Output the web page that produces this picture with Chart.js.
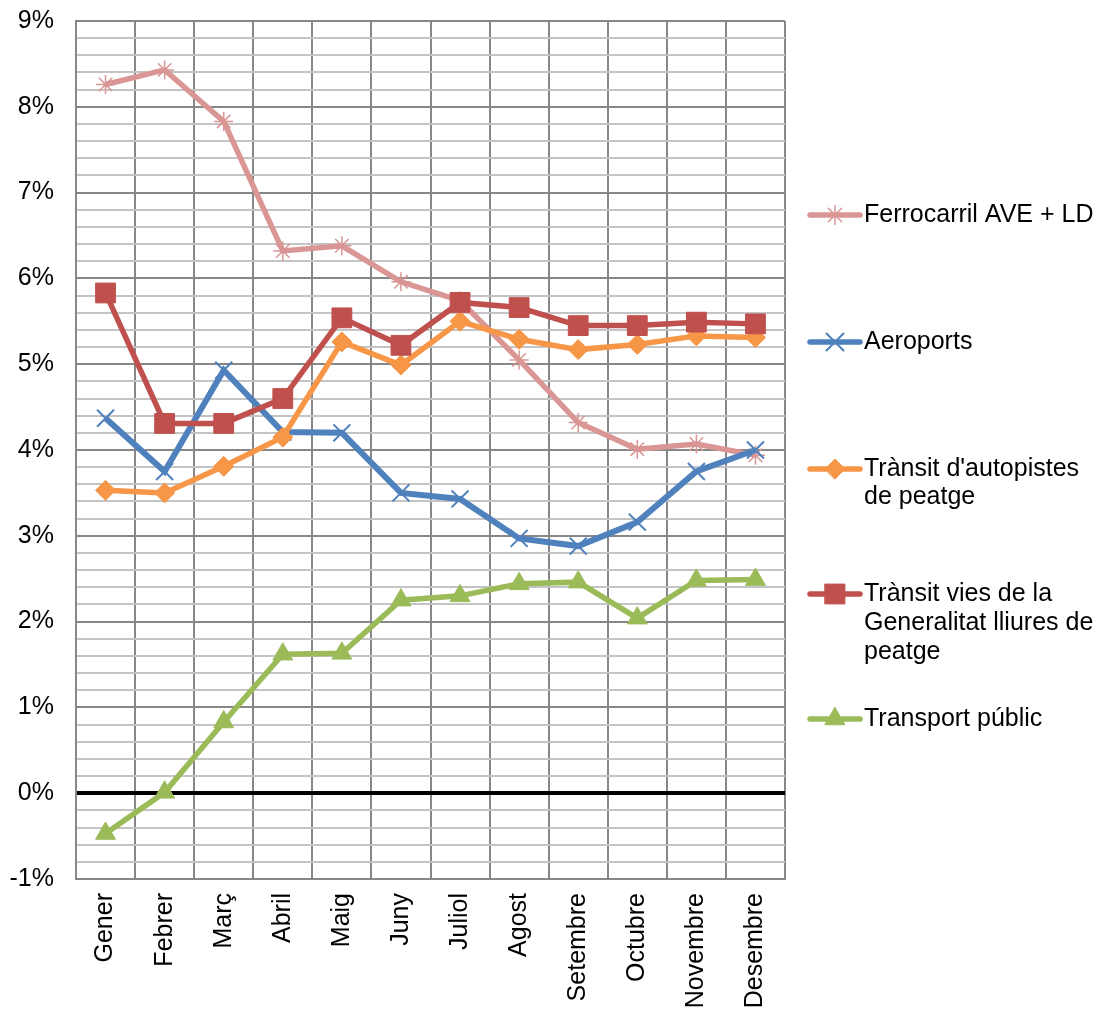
<!DOCTYPE html>
<html>
<head>
<meta charset="utf-8">
<script src="https://cdn.jsdelivr.net/npm/chart.js@4/dist/chart.umd.min.js"></script>
<style>
  html, body { margin: 0; padding: 0; background: #fff; }
  #wrap { width: 1101px; height: 1010px; position: relative; }
</style>
</head>
<body>
<div id="wrap"><canvas id="chart"></canvas></div>
<script>
const months = ['Gener', 'Febrer', 'Març', 'Abril', 'Maig', 'Juny', 'Juliol', 'Agost', 'Setembre', 'Octubre', 'Novembre', 'Desembre'];

const ferrocarril = [8.26, 8.43, 7.83, 6.32, 6.38, 5.96, 5.74, 5.05, 4.32, 4.01, 4.07, 3.94];
const aeroports = [4.37, 3.75, 4.93, 4.21, 4.20, 3.50, 3.43, 2.97, 2.88, 3.16, 3.75, 4.00];
const autopistes = [3.53, 3.50, 3.81, 4.15, 5.26, 4.99, 5.50, 5.29, 5.17, 5.23, 5.33, 5.31];
const viesGeneralitat = [5.83, 4.31, 4.31, 4.60, 5.54, 5.22, 5.72, 5.66, 5.45, 5.45, 5.49, 5.47];
const transportPublic = [-0.47, 0.01, 0.83, 1.62, 1.63, 2.25, 2.30, 2.44, 2.46, 2.04, 2.48, 2.49];

const seriesNames = [
    ['Ferrocarril AVE + LD'],
    ['Aeroports'],
    ["Trànsit d'autopistes", 'de peatge'],
    ['Trànsit vies de la', 'Generalitat lliures de', 'peatge'],
    ['Transport públic']
];

const FONT = "'Liberation Sans', Arial, sans-serif";
Chart.defaults.font.family = FONT;
Chart.defaults.font.size = 25;
Chart.defaults.color = '#000';

function series(i, data, color, style, radius, pointBorder, width) {
    return {
        label: seriesNames[i].join(' '),
        data: data,
        borderColor: color,
        backgroundColor: color,
        borderWidth: width,
        pointStyle: style,
        pointRadius: radius,
        pointHoverRadius: radius,
        pointBorderWidth: pointBorder,
        pointBackgroundColor: color,
        pointBorderColor: color,
        tension: 0,
        order: 4 - i
    };
}

const datasets = [
    series(0, ferrocarril, '#D99694', 'star', 9.5, 1.5, 5.5),
    series(1, aeroports, '#4F81BD', 'crossRot', 12, 2, 6),
    series(2, autopistes, '#F79646', 'rectRot', 10, 1, 5.5),
    series(3, viesGeneralitat, '#C0504D', 'rect', 14, 1, 5.5),
    series(4, transportPublic, '#9BBB59', 'triangle', 11.5, 1, 5.5)
];

// legend on the right, drawn by hand so the entries can wrap like the original
const sideLegend = {
    id: 'sideLegend',
    afterDraw(chart) {
        const ctx = chart.ctx;
        const rows = [[215], [342], [469, 497], [594, 623, 652], [719]];
        ctx.save();
        chart.data.datasets.forEach((ds, i) => {
            const y = rows[i][0];
            ctx.strokeStyle = ds.borderColor;
            ctx.fillStyle = ds.borderColor;
            ctx.lineWidth = 5.5;
            ctx.lineCap = 'round';
            ctx.beginPath();
            ctx.moveTo(810, y);
            ctx.lineTo(860, y);
            ctx.stroke();
            ctx.lineWidth = ds.pointBorderWidth;
            Chart.helpers.drawPoint(ctx, {
                pointStyle: ds.pointStyle,
                radius: ds.pointRadius,
                rotation: 0,
                borderWidth: ds.pointBorderWidth
            }, 835, y);
            ctx.fillStyle = '#000';
            ctx.font = '25px ' + FONT;
            ctx.textBaseline = 'middle';
            ctx.textAlign = 'left';
            seriesNames[i].forEach((line, j) => {
                ctx.fillText(line, 864, rows[i][j]);
            });
        });
        ctx.restore();
    }
};

function isWhole(v) {
    return Math.abs(v - Math.round(v)) < 1e-6;
}

new Chart(document.getElementById('chart'), {
    type: 'line',
    data: { labels: months, datasets: datasets },
    options: {
        responsive: true,
        maintainAspectRatio: false,
        animation: false,
        layout: { padding: { top: 21, right: 316, bottom: 0, left: 0 } },
        plugins: {
            legend: { display: false },
            tooltip: { enabled: false }
        },
        scales: {
            x: {
                offset: true,
                grid: { offset: true, color: '#878787', lineWidth: 2, drawTicks: false },
                border: { display: true, color: '#878787', width: 2 },
                ticks: { minRotation: 90, maxRotation: 90, padding: 14, autoSkip: false },
                afterFit(scale) {
                    scale.height = 131;
                    scale.paddingLeft = 0;
                    scale.paddingRight = 0;
                }
            },
            y: {
                min: -1,
                max: 9,
                grid: {
                    drawTicks: false,
                    color: (c) => {
                        const v = c.tick.value;
                        if (Math.abs(v) < 1e-6) return '#000';
                        return isWhole(v) ? '#878787' : '#C4C4C4';
                    },
                    lineWidth: (c) => Math.abs(c.tick.value) < 1e-6 ? 4 : 2
                },
                border: { display: true, color: '#878787', width: 2 },
                ticks: {
                    stepSize: 0.2,
                    autoSkip: false,
                    padding: 22,
                    callback: (v) => isWhole(v) ? Math.round(v) + '%' : ''
                },
                afterFit(scale) {
                    scale.width = 76;
                    scale.paddingTop = 0;
                    scale.paddingBottom = 0;
                }
            }
        }
    },
    plugins: [sideLegend]
});
</script>
</body>
</html>
